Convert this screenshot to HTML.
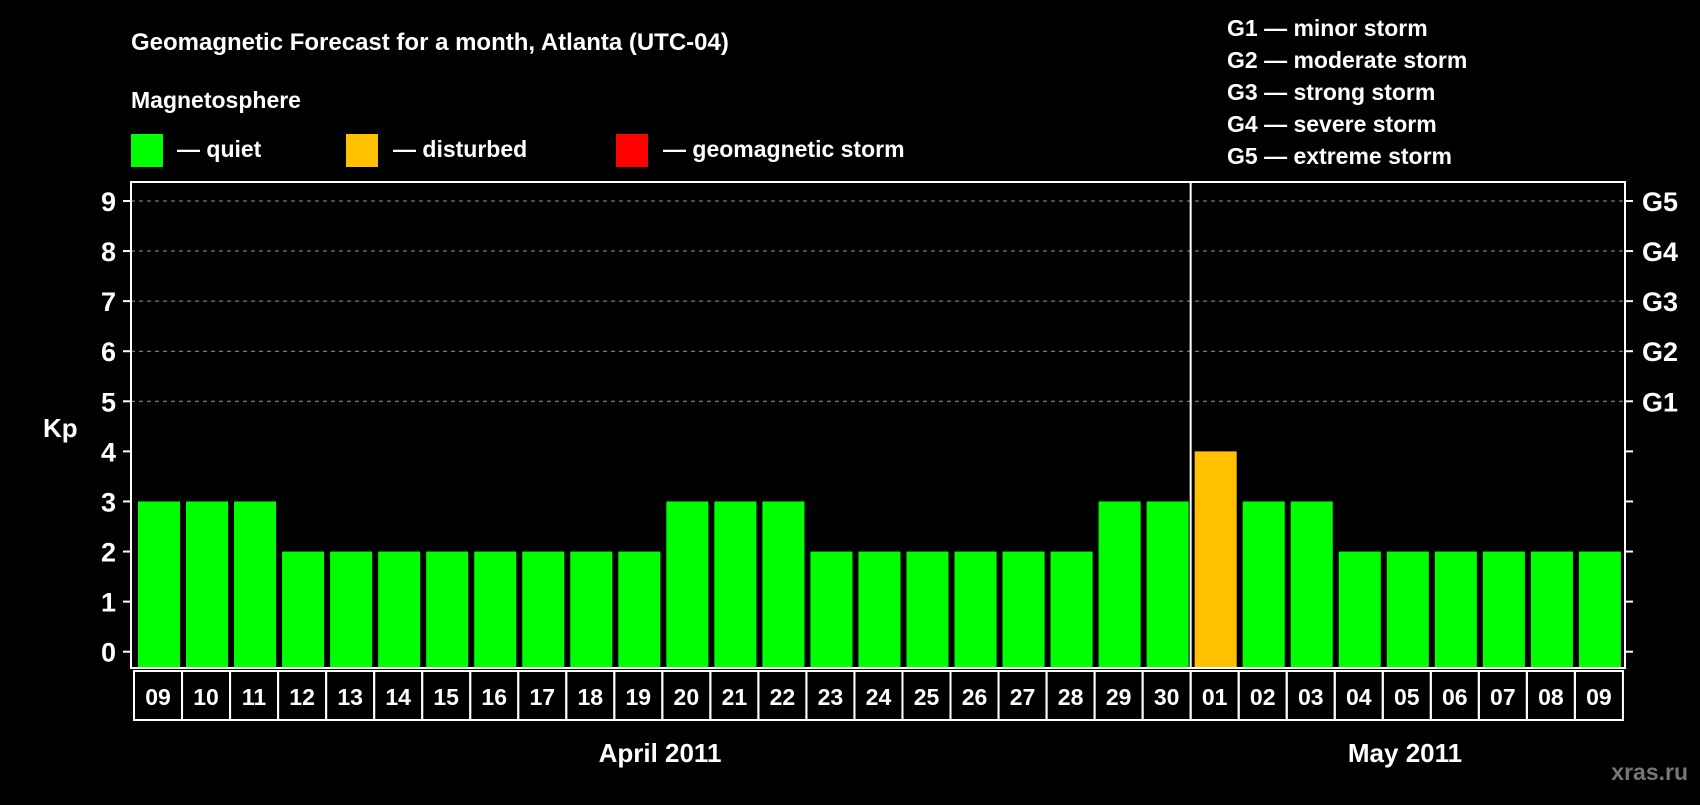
<!DOCTYPE html>
<html><head><meta charset="utf-8"><style>
body{margin:0;background:#000;width:1700px;height:800px;overflow:hidden}
svg text{font-family:"Liberation Sans",Arial,sans-serif;font-weight:bold;fill:#fff}
</style></head><body>
<svg id="c" width="1700" height="800">
<text x="131" y="50" font-size="24">Geomagnetic Forecast for a month, Atlanta (UTC-04)</text>
<text x="131" y="108" font-size="23">Magnetosphere</text>
<g><rect x="131" y="134" width="32" height="33" fill="#00ff00"/><text x="177" y="157" font-size="23">— quiet</text></g>
<g><rect x="346" y="134" width="32" height="33" fill="#ffc000"/><text x="393" y="157" font-size="23">— disturbed</text></g>
<g><rect x="616" y="134" width="32" height="33" fill="#ff0000"/><text x="663" y="157" font-size="23">— geomagnetic storm</text></g>
<g font-size="23">
<text x="1227" y="36">G1 — minor storm</text>
<text x="1227" y="68">G2 — moderate storm</text>
<text x="1227" y="100">G3 — strong storm</text>
<text x="1227" y="132">G4 — severe storm</text>
<text x="1227" y="164">G5 — extreme storm</text>
</g>
<text x="43" y="437" font-size="26">Kp</text>
<text x="660" y="762" font-size="26" text-anchor="middle">April 2011</text>
<text x="1405" y="762" font-size="26" text-anchor="middle">May 2011</text>
<text x="1688" y="780" font-size="23" text-anchor="end" style="fill:#777">xras.ru</text>
<g id="plot"></g>
</svg>
<script>
const days=["09","10","11","12","13","14","15","16","17","18","19","20","21","22","23","24","25","26","27","28","29","30","01","02","03","04","05","06","07","08","09"];
const kp=[3,3,3,2,2,2,2,2,2,2,2,3,3,3,2,2,2,2,2,2,3,3,4,3,3,2,2,2,2,2,2];
const yTicks=[0,1,2,3,4,5,6,7,8,9];
const gLabels=["G1","G2","G3","G4","G5"];
const NS="http://www.w3.org/2000/svg";
const g=document.getElementById('plot');
const L=131,R=1625,T=182,B=668,cellL=134,cellW=48.03;
const y=v=>651.7-v*50.08;
const x=i=>cellL+i*cellW;
function mk(t,a){const e=document.createElementNS(NS,t);for(const k in a)e.setAttribute(k,a[k]);g.appendChild(e);return e;}
yTicks.forEach(v=>{
 if(v>=5){const gl=mk('line',{x1:L,x2:R,y1:y(v),y2:y(v),stroke:'#999','stroke-dasharray':'4 4','stroke-width':1});
 
 }
 const t1=mk('line',{x1:L-8,x2:L,y1:y(v),y2:y(v),stroke:'#fff','stroke-width':2});
 
 
 const t2=mk('line',{x1:R,x2:R+8,y1:y(v),y2:y(v),stroke:'#fff','stroke-width':2});
 
 
 const tl=mk('text',{x:116,y:y(v)+10,'font-size':27,'text-anchor':'end'});tl.textContent=v;
 
 
});
gLabels.forEach((s,i)=>{const t=mk('text',{x:1642,y:y(5+i)+10,'font-size':27});t.textContent=s;
 
 });
kp.forEach((v,i)=>{
 const c=v>=5?'#ff0000':(v>=4?'#ffc000':'#00ff00');
 const b=mk('rect',{x:x(i)+4,y:y(v),width:cellW-6,height:B-y(v)-1,fill:c});
 
 
 const cell=mk('rect',{x:x(i),y:B+3,width:cellW,height:49,fill:'none',stroke:'#fff','stroke-width':2});
 
 
 const tx=mk('text',{x:x(i)+cellW/2,y:B+37,'font-size':23,'text-anchor':'middle'});tx.textContent=days[i];
 
 
});
const fr=mk('rect',{x:L,y:T,width:R-L,height:B-T,fill:'none',stroke:'#fff','stroke-width':2});


const md=mk('line',{x1:x(22),x2:x(22),y1:T,y2:B,stroke:'#fff','stroke-width':2});


</script>
</body></html>
